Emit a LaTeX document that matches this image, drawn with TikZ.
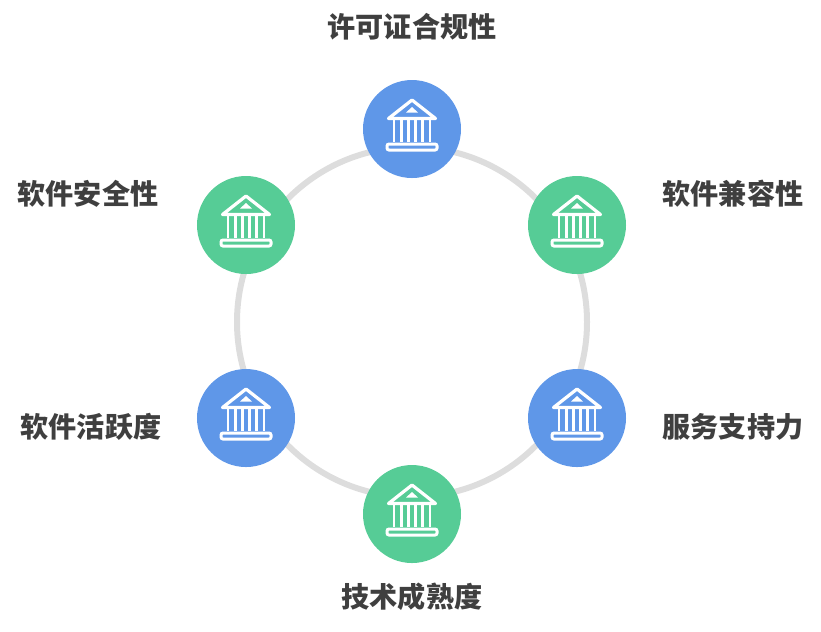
\documentclass[tikz,border=0pt]{standalone}
\usepackage{fontspec}
\setmainfont{Noto Sans CJK SC}
\usepackage{xcolor}
\definecolor{blue1}{HTML}{5F97E8}
\definecolor{green1}{HTML}{56CC96}
\definecolor{ringgray}{HTML}{DDDDDD}
\definecolor{textgray}{HTML}{3F3F3F}
\usetikzlibrary{positioning}
\tikzset{hub/.style={circle,minimum size=.98cm,inner sep=0pt,outer sep=0pt},
bank/.pic={
\draw[white,line width=.032cm,line join=round] (0,.29)--(-.235,.105)--(.235,.105)--cycle;
\fill[white] (0,.22)--(-.06,.165)--(.06,.165)--cycle;
\foreach \x in {-.18,-.108,-.036,.036,.108,.18}
\draw[white,line width=.028cm] (\x,.105)--(\x,-.125);
\draw[white,line width=.03cm,rounded corners=.02cm] (-.25,-.15) rectangle (.25,-.21);
},
title/.style={font=\fontsize{8}{10}\selectfont\bfseries,text=textgray,inner sep=0pt}}
\begin{document}
\begin{tikzpicture}
\useasboundingbox (-4.12,3.22) rectangle (4.09,-3.09);
\node[circle,draw=ringgray,line width=.06cm,minimum size=3.5cm,inner sep=0pt] (ring) at (0,0) {};
% six hubs round the ring
\node[hub,fill=blue1] (licence) at (0,1.93) {};
\node[hub,fill=green1] (compat) at (1.65,.97) {};
\node[hub,fill=blue1] (service) at (1.65,-.96) {};
\node[hub,fill=green1] (mature) at (0,-1.92) {};
\node[hub,fill=blue1] (active) at (-1.66,-.96) {};
\node[hub,fill=green1] (safe) at (-1.66,.97) {};
\pic at (licence) {bank};
\pic at (compat) {bank};
\pic at (service) {bank};
\pic at (mature) {bank};
\pic at (active) {bank};
\pic at (safe) {bank};
% labels
\node[title] (licencet) at (0,2.95) {许可证合规性};
\node[title] (compatt) at (3.21,1.28) {软件兼容性};
\node[title] (servicet) at (3.21,-1.05) {服务支持力};
\node[title] (maturet) at (0,-2.75) {技术成熟度};
\node[title] (activet) at (-3.21,-1.05) {软件活跃度};
\node[title] (safet) at (-3.24,1.28) {软件安全性};
\end{tikzpicture}
\end{document}
